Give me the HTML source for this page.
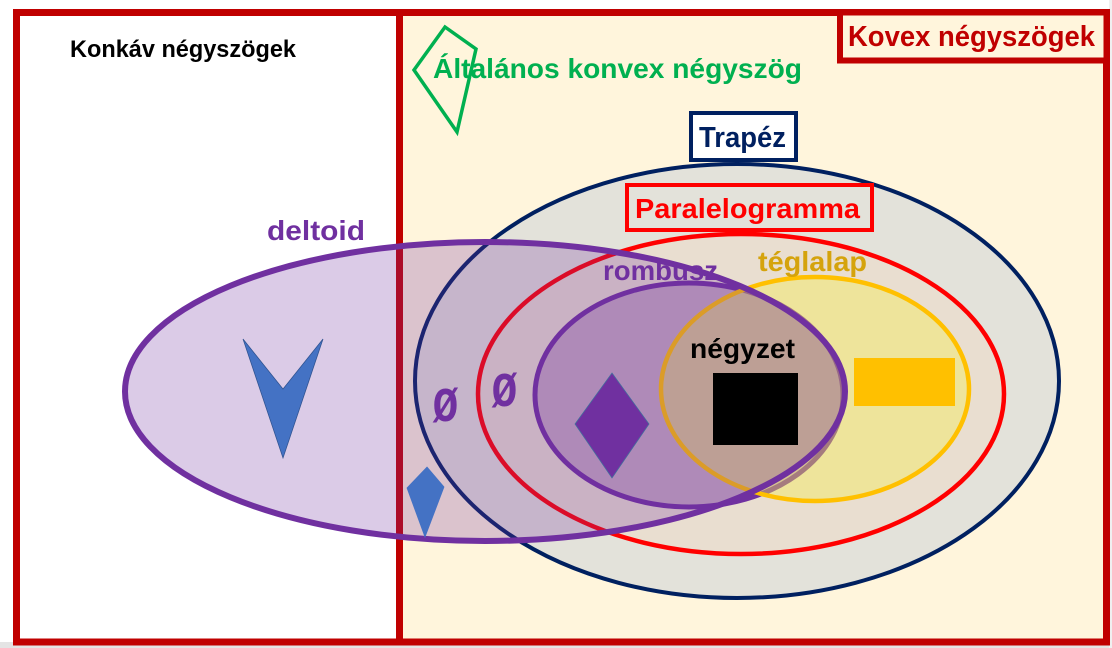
<!DOCTYPE html>
<html>
<head>
<meta charset="utf-8">
<style>
html,body{margin:0;padding:0;background:#ffffff;}
svg{display:block;}
text{font-family:"Liberation Sans","DejaVu Sans",sans-serif;font-weight:bold;}
</style>
</head>
<body>
<svg width="1112" height="648" viewBox="0 0 1112 648" xmlns="http://www.w3.org/2000/svg">
  <!-- background -->
  <rect x="0" y="0" width="1112" height="648" fill="#ffffff"/>
  <rect x="0" y="642" width="1112" height="6" fill="#E4E4E4"/>
  <rect x="1109" y="0" width="3" height="648" fill="#F0F0F0"/>
  <!-- convex panel fill -->
  <rect x="399.5" y="12.5" width="707" height="629.5" fill="#FFF5DC"/>
  <!-- frames -->
  <rect x="16.5" y="12.5" width="1090" height="629.5" fill="none" stroke="#C00000" stroke-width="7"/>
  <line x1="399.5" y1="12" x2="399.5" y2="642" stroke="#C00000" stroke-width="7"/>

  <!-- Kovex box -->
  <rect x="840" y="12.5" width="266.5" height="48" fill="#FFF5DC" stroke="#C00000" stroke-width="6"/>
  <text x="848" y="46" font-size="29" fill="#C00000" textLength="247" lengthAdjust="spacingAndGlyphs">Kovex négyszögek</text>

  <!-- Konkáv label -->
  <text x="70" y="57" font-size="24" fill="#000000" textLength="226" lengthAdjust="spacingAndGlyphs">Konkáv négyszögek</text>

  <!-- general convex -->
  <text x="433" y="78" font-size="28" fill="#00B050" textLength="369" lengthAdjust="spacingAndGlyphs">Általános konvex négyszög</text>
  <polygon points="445,27 476,49 457,132 414,70" fill="none" stroke="#00B050" stroke-width="3.5" stroke-linejoin="miter"/>

  <!-- Trapez ellipse -->
  <ellipse cx="737" cy="381" rx="322" ry="217" fill="#E3E2DA" stroke="#002060" stroke-width="4"/>
  <!-- Trapez box -->
  <rect x="691" y="113" width="105" height="47" fill="#ffffff" stroke="#002060" stroke-width="4"/>
  <text x="699" y="147" font-size="29" fill="#002060" textLength="87" lengthAdjust="spacingAndGlyphs">Trapéz</text>

  <!-- Parallelogram ellipse -->
  <ellipse cx="741" cy="394" rx="263" ry="160" fill="#E9DED0" stroke="#FF0000" stroke-width="4.5"/>
  <rect x="627" y="185" width="245" height="45" fill="none" stroke="#FF0000" stroke-width="4"/>
  <text x="635" y="218" font-size="28" fill="#FF0000" textLength="225" lengthAdjust="spacingAndGlyphs">Paralelogramma</text>

  <!-- Rhombus ellipse -->
  <ellipse cx="689" cy="395" rx="154" ry="112" fill="rgba(112,48,160,0.30)" stroke="#7030A0" stroke-width="5"/>
  <!-- Rectangle ellipse -->
  <ellipse cx="815" cy="389" rx="154" ry="112" fill="rgba(246,237,76,0.40)" stroke="#FFC000" stroke-width="4.5"/>

  <text x="758" y="271" font-size="28" fill="#D5A30C" textLength="109" lengthAdjust="spacingAndGlyphs">téglalap</text>
  <text x="603" y="280" font-size="28" fill="#7030A0" textLength="115" lengthAdjust="spacingAndGlyphs">rombusz</text>

  <!-- Deltoid ellipse -->
  <ellipse cx="485" cy="391.5" rx="360" ry="149.5" fill="rgba(112,48,160,0.25)" stroke="#7030A0" stroke-width="6"/>
  <text x="267" y="240" font-size="28" fill="#7030A0" textLength="98" lengthAdjust="spacingAndGlyphs">deltoid</text>

  <!-- empty set symbols -->
  <text transform="translate(445.5,421) scale(0.7,1)" text-anchor="middle" font-size="60" fill="#7030A0">ø</text>
  <text transform="translate(504.5,406) scale(0.7,1)" text-anchor="middle" font-size="60" fill="#7030A0">ø</text>

  <!-- shapes -->
  <polygon points="243,339 283,389 323,339 283,458" fill="#4472C4" stroke="#2F528F" stroke-width="0.75"/>
  <polygon points="427,467 444,487 425,537 407,488" fill="#4472C4" stroke="#4472C4" stroke-width="0.75"/>
  <polygon points="612,373 649,424 612,478 575,424" fill="#7030A0" stroke="#41719C" stroke-width="0.75"/>
  <rect x="713" y="373" width="85" height="72" fill="#000000"/>
  <rect x="854" y="358" width="101" height="48" fill="#FFC000"/>

  <text x="690" y="358" font-size="28" fill="#000000" textLength="105" lengthAdjust="spacingAndGlyphs">négyzet</text>
</svg>
</body>
</html>
